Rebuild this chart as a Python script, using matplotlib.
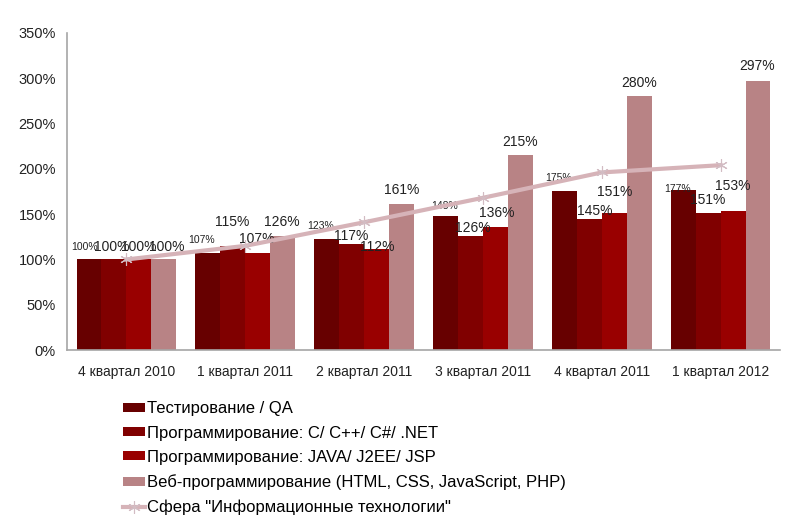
import numpy as np
import matplotlib.pyplot as plt

plt.rcParams['font.family'] = ['Liberation Sans', 'DejaVu Sans']

# Данные
quarters = ['4 квартал 2010', '1 квартал 2011', '2 квартал 2011',
            '3 квартал 2011', '4 квартал 2011', '1 квартал 2012']
series_names = ['Тестирование / QA',
                'Программирование: C/ C++/ C#/ .NET',
                'Программирование: JAVA/ J2EE/ JSP',
                'Веб-программирование (HTML, CSS, JavaScript, PHP)']
testing = [100, 107, 123, 148, 175, 177]
cpp = [100, 115, 117, 126, 145, 151]
java = [100, 107, 112, 136, 151, 153]
web = [100, 126, 161, 215, 280, 297]
it_name = 'Сфера "Информационные технологии"'
it_sphere = [100, 115, 141, 168, 196, 204]

# Оформление
colors = ['#670000', '#800000', '#990000', '#b88385']
label_sizes = [7.5, 10, 10, 10]
# сдвиг подписей над столбцами (пиксели), как в исходной диаграмме
label_dx = [[-4, -6, -6, -1, -6, -6],
            [-2, -1, 0, 2, 5, 0],
            [0, -1, 1, 1, 0, 0],
            [3, -1, 0, 0, 0, -1]]
label_dy = [[12, 13, 13, 10, 13, 1],
            [12, 24, 8, 8, 8, 13],
            [12, 14, 2, 14, 21, 25],
            [12, 14, 14, 13, 13, 15]]

fig = plt.figure(figsize=(8, 5.21), dpi=100)
ax = fig.add_axes([0.08375, 0.328, 0.89125, 0.609])

x = np.arange(len(quarters))
w = 0.21
all_series = [testing, cpp, java, web]
for i, (vals, name, col) in enumerate(zip(all_series, series_names, colors)):
    pos = x + (i - 1.5) * w
    ax.bar(pos, vals, w, color=col, label=name)
    for j, v in enumerate(vals):
        ax.annotate(f'{v}%', (pos[j], v), xytext=(label_dx[i][j], label_dy[i][j]),
                    textcoords='offset pixels', ha='center', va='center',
                    fontsize=label_sizes[i], color='#222222')

ax.plot(x, it_sphere, color='#d6b3b8', lw=3, marker=(6, 2, 0), markersize=9,
        markeredgecolor='#d2bcc3', markeredgewidth=0.8, label=it_name, zorder=3)

ax.set_xlim(-0.5, len(quarters) - 0.5)
ax.set_ylim(0, 350)
ax.set_yticks(range(0, 351, 50))
ax.set_yticklabels([f'{t}%' for t in range(0, 351, 50)], fontsize=10.5, color='#222222')
ax.set_xticks(x)
ax.set_xticklabels(quarters, fontsize=10, color='#222222')
ax.tick_params(axis='y', length=0, pad=8)
ax.tick_params(axis='x', length=0, pad=11)
for s in ['top', 'right']:
    ax.spines[s].set_visible(False)
for s in ['left', 'bottom']:
    ax.spines[s].set_color('#a6a6a6')
    ax.spines[s].set_linewidth(1.2)

handles, labels = ax.get_legend_handles_labels()
handles = handles[1:] + handles[:1]
labels = labels[1:] + labels[:1]
fig.legend(handles, labels, loc='upper left', bbox_to_anchor=(0.154, 0.230),
           frameon=False, fontsize=12, handlelength=1.3, handleheight=0.45,
           handletextpad=0.15, labelspacing=0.56, borderpad=0, borderaxespad=0)

fig.savefig('out.png', dpi=100)
